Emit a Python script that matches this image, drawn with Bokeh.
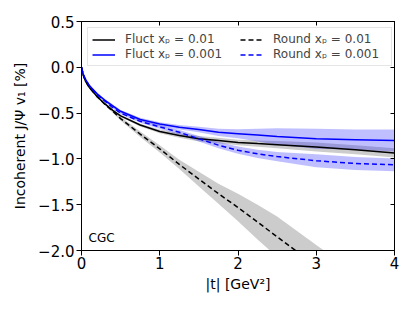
import numpy as np
from bokeh.plotting import figure
from bokeh.models import Range1d, LinearAxis, Legend, LegendItem, Label, FixedTicker, CustomJSTickFormatter
from bokeh.embed import file_html
from bokeh.resources import INLINE

# |t| grid (GeV^2)
t = [0, 0.02, 0.05, 0.1, 0.2, 0.3, 0.4, 0.5, 0.75, 1.0, 1.25, 1.5, 1.75, 2.0, 2.25, 2.5, 3.0, 3.5, 4.0]

# v1 [%]
fluct_001 = [0, -0.08, -0.15, -0.22, -0.32, -0.40, -0.47, -0.53, -0.63, -0.70, -0.745, -0.78, -0.80, -0.82, -0.833, -0.845, -0.87, -0.90, -0.935]
fluct_0001 = [0, -0.07, -0.13, -0.20, -0.29, -0.36, -0.42, -0.48, -0.57, -0.62, -0.655, -0.68, -0.71, -0.725, -0.74, -0.755, -0.78, -0.79, -0.80]
round_001 = [0, -0.08, -0.15, -0.22, -0.32, -0.405, -0.48, -0.56, -0.73, -0.89, -1.06, -1.22, -1.38, -1.53, -1.69, -1.85, -2.17, -2.49, -2.80]
round_0001 = [0, -0.07, -0.13, -0.20, -0.30, -0.37, -0.44, -0.50, -0.59, -0.65, -0.71, -0.78, -0.85, -0.905, -0.945, -0.975, -1.02, -1.05, -1.065]

# uncertainty half-widths
err_fluct_001 = [0, 0, 0, 0.005, 0.008, 0.01, 0.01, 0.012, 0.015, 0.02, 0.025, 0.03, 0.03, 0.03, 0.035, 0.04, 0.05, 0.05, 0.05]
err_fluct_0001 = [0, 0, 0, 0.008, 0.012, 0.015, 0.015, 0.015, 0.018, 0.02, 0.025, 0.03, 0.04, 0.05, 0.07, 0.09, 0.11, 0.11, 0.12]
err_round_001 = [0, 0, 0, 0.005, 0.008, 0.01, 0.015, 0.02, 0.03, 0.04, 0.05, 0.08, 0.11, 0.15, 0.19, 0.22, 0.23, 0.25, 0.27]
err_round_0001 = [0, 0, 0, 0.005, 0.008, 0.01, 0.01, 0.012, 0.015, 0.02, 0.025, 0.03, 0.035, 0.04, 0.045, 0.05, 0.07, 0.07, 0.07]

x_ticks = [0, 1, 2, 3, 4]
y_ticks = [-2.0, -1.5, -1.0, -0.5, 0.0, 0.5]

FONT = "DejaVu Sans"

p = figure(width=415, height=311, output_backend="svg", toolbar_location=None,
           x_range=Range1d(0, 4), y_range=Range1d(-2.0, 0.5),
           min_border_left=81, min_border_right=21, min_border_top=21, min_border_bottom=61)
p.xgrid.visible = False
p.ygrid.visible = False
p.outline_line_color = "black"
p.outline_line_width = 1
p.background_fill_color = "white"
p.border_fill_color = "white"

ta = np.array(t)

def band(center, err, color, alpha):
    c = np.array(center)
    e = np.array(err)
    p.varea(x=ta, y1=c - e, y2=c + e, fill_color=color, fill_alpha=alpha)

band(round_001, err_round_001, "black", 0.2)
band(fluct_001, err_fluct_001, "black", 0.2)
band(round_0001, err_round_0001, "blue", 0.25)
band(fluct_0001, err_fluct_0001, "blue", 0.25)

r1 = p.line(t, fluct_001, line_color="black", line_width=1.5)
r2 = p.line(t, fluct_0001, line_color="blue", line_width=1.5)
r3 = p.line(t, round_001, line_color="black", line_width=1.5, line_dash="5 3")
r4 = p.line(t, round_0001, line_color="blue", line_width=1.5, line_dash="5 3")

for ax in (p.xaxis[0], p.yaxis[0]):
    ax.axis_line_color = "black"
    ax.major_tick_line_color = "black"
    ax.major_tick_out = 5
    ax.major_tick_in = 0
    ax.minor_tick_line_color = None
    ax.major_label_text_font = FONT
    ax.major_label_text_font_size = "15px"
    ax.major_label_text_color = "black"
    ax.axis_label_text_font = FONT
    ax.axis_label_text_font_size = "14px"
    ax.axis_label_text_font_style = "normal"
    ax.axis_label_text_color = "black"

p.xaxis[0].ticker = FixedTicker(ticks=x_ticks)
p.yaxis[0].ticker = FixedTicker(ticks=y_ticks)
p.xaxis[0].formatter = CustomJSTickFormatter(code="return tick.toFixed(0);")
p.yaxis[0].formatter = CustomJSTickFormatter(code="return tick.toFixed(1).replace('-', '\u2212');")
p.xaxis[0].axis_label = "|t| [GeV²]"
p.yaxis[0].axis_label = "Incoherent J/Ψ v₁ [%]"
p.xaxis[0].major_label_standoff = 1
p.yaxis[0].major_label_standoff = 2
p.xaxis[0].axis_label_standoff = 4
p.yaxis[0].axis_label_standoff = 7

blank = CustomJSTickFormatter(code="return '';")
rax = LinearAxis(ticker=FixedTicker(ticks=y_ticks), formatter=blank,
                 major_tick_in=4, major_tick_out=0, minor_tick_line_color=None,
                 major_label_standoff=0, axis_line_color="black")
p.add_layout(rax, "right")
tax = LinearAxis(ticker=FixedTicker(ticks=x_ticks), formatter=CustomJSTickFormatter(code="return '';"),
                 major_tick_in=4, major_tick_out=0, minor_tick_line_color=None,
                 major_label_standoff=0, axis_line_color="black")
p.add_layout(tax, "above")
p.min_border_right = 21
p.min_border_top = 21

legend = Legend(items=[
    LegendItem(label="Fluct xₚ = 0.01", renderers=[r1]),
    LegendItem(label="Fluct xₚ = 0.001", renderers=[r2]),
    LegendItem(label="Round xₚ = 0.01", renderers=[r3]),
    LegendItem(label="Round xₚ = 0.001", renderers=[r4]),
], location="top_left", ncols=2)
legend.label_text_font = FONT
legend.label_text_font_size = "12px"
legend.label_height = 11
legend.glyph_height = 11
legend.glyph_width = 23
legend.label_standoff = 10
legend.label_width = 114
legend.spacing = 1
legend.padding = 4
legend.margin = 6
legend.border_line_color = "#cccccc"
legend.border_line_width = 1
legend.background_fill_alpha = 0.8
p.add_layout(legend)

p.add_layout(Label(x=7, y=6, x_units="screen", y_units="screen", text="CGC",
                   text_font=FONT, text_font_size="12px", text_color="black"))

open("out.html", "w").write(file_html(p, INLINE))
